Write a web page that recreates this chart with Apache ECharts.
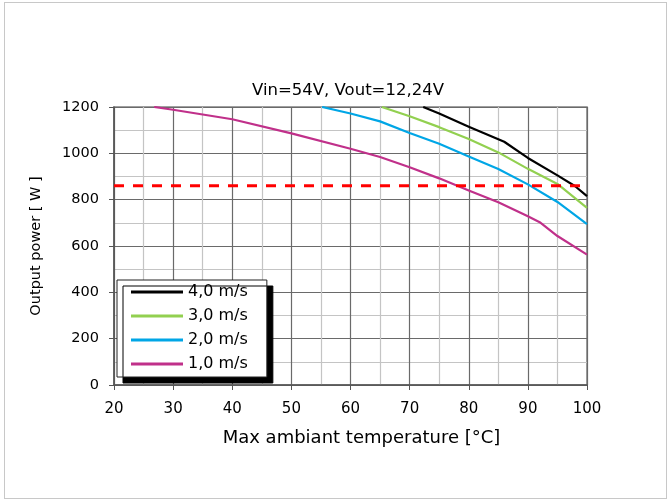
<!DOCTYPE html>
<html>
<head>
<meta charset="utf-8">
<script src="https://cdn.jsdelivr.net/npm/echarts@6/dist/echarts.min.js"></script>
<style>
html,body{margin:0;padding:0;background:#fff;}
#frame{position:absolute;left:4px;top:2px;width:663px;height:497px;border:1px solid #c8c8c8;box-sizing:border-box;}
#chart{position:absolute;left:0;top:0;width:672px;height:504px;}
</style>
</head>
<body>
<div id="frame"></div>
<div id="chart"></div>
<script>
const titleText = 'Vin=54V, Vout=12,24V';
const xAxisName = 'Max ambiant temperature [°C]';
const yAxisName = 'Output power [ W ]';
const seriesNames = ['4,0 m/s', '3,0 m/s', '2,0 m/s', '1,0 m/s'];

const temp40 = [72.3, 75, 80, 86, 90, 95, 98, 100];
const power40 = [1200, 1172, 1115, 1050, 980, 905, 858, 815];

const temp30 = [65.3, 70, 75, 80, 85, 90, 95, 100];
const power30 = [1200, 1160, 1113, 1062, 1004, 933, 868, 765];

const temp20 = [55.2, 60, 65, 70, 75, 80, 85, 90, 95, 100];
const power20 = [1200, 1172, 1138, 1088, 1041, 986, 932, 866, 790, 694];

const temp10 = [26.8, 30, 40, 50, 60, 65, 70, 75, 80, 85, 90, 92, 95, 100];
const power10 = [1200, 1188, 1147, 1086, 1020, 984, 940, 892, 840, 789, 728, 703, 643, 563];

const limitTemp = [20, 99];
const limitPower = [860, 860];

const xTicks = [20, 30, 40, 50, 60, 70, 80, 90, 100];
const yTicks = [0, 200, 400, 600, 800, 1000, 1200];

const colors = ['#000000', '#92d050', '#00a6e6', '#c0308a'];
const temps = [temp40, temp30, temp20, temp10];
const powers = [power40, power30, power20, power10];

function pairs(xs, ys) { return xs.map((x, i) => [x, ys[i]]); }

const FONT = '"DejaVu Sans", sans-serif';

const chart = echarts.init(document.getElementById('chart'));
const series = seriesNames.map((name, i) => ({
  name: name,
  type: 'line',
  data: pairs(temps[i], powers[i]),
  symbol: 'none',
  smooth: false,
  z: 5 - i,
  lineStyle: { color: colors[i], width: 2.2 },
  itemStyle: { color: colors[i] }
}));
series.push({
  name: 'limit',
  type: 'line',
  data: pairs(limitTemp, limitPower),
  symbol: 'none',
  z: 6,
  lineStyle: { color: '#ff0000', width: 3, type: [10, 9] },
  itemStyle: { color: '#ff0000' }
});

chart.setOption({
  animation: false,
  backgroundColor: 'transparent',
  title: {
    text: titleText,
    left: 343, top: 77, textAlign: 'center',
    textStyle: { fontFamily: FONT, fontSize: 16.5, fontWeight: 'normal', color: '#000' }
  },
  grid: {
    left: 114, right: 85, top: 107, bottom: 119,
    show: true, borderColor: '#808080', borderWidth: 1.5
  },
  legend: {
    data: seriesNames,
    orient: 'vertical',
    left: 117, top: 280,
    icon: 'rect',
    itemWidth: 52, itemHeight: 3, itemGap: 8,
    padding: [4, 19, 5, 14],
    backgroundColor: '#fff',
    borderColor: '#222', borderWidth: 1,
    shadowColor: '#000', shadowBlur: 0, shadowOffsetX: 6, shadowOffsetY: 6,
    textStyle: { fontFamily: FONT, fontSize: 16, lineHeight: 16, color: '#000' }
  },
  xAxis: {
    type: 'value', min: 20, max: 100, interval: 10,
    name: xAxisName, nameLocation: 'middle', nameGap: 44,
    nameTextStyle: { fontFamily: FONT, fontSize: 18, color: '#000', padding: [0, 0, 0, 22] },
    axisLine: { lineStyle: { color: '#555', width: 1.5 } },
    axisTick: { show: true, length: 5, inside: false, lineStyle: { color: '#555' } },
    axisLabel: { fontFamily: FONT, fontSize: 15, color: '#000', margin: 17,
      formatter: v => xTicks.includes(v) ? String(v) : '' },
    splitLine: { show: true, lineStyle: { color: '#6a6a6a', width: 1.2 } },
    minorTick: { show: false, splitNumber: 2 },
    minorSplitLine: { show: true, lineStyle: { color: '#c4c4c4', width: 1.2 } }
  },
  yAxis: {
    type: 'value', min: 0, max: 1200, interval: 200,
    name: yAxisName, nameLocation: 'middle', nameGap: 70, nameRotate: 90,
    nameTextStyle: { fontFamily: FONT, fontSize: 14.5, color: '#000' },
    axisLine: { show: true, lineStyle: { color: '#555', width: 1.5 } },
    axisTick: { show: true, length: 5, lineStyle: { color: '#555' } },
    axisLabel: { fontFamily: FONT, fontSize: 14.5, color: '#000', margin: 15,
      formatter: v => yTicks.includes(v) ? String(v) : '' },
    splitLine: { show: true, lineStyle: { color: '#6a6a6a', width: 1.2 } },
    minorTick: { show: false, splitNumber: 2 },
    minorSplitLine: { show: true, lineStyle: { color: '#c4c4c4', width: 1.2 } }
  },
  series: series
});
</script>
</body>
</html>
